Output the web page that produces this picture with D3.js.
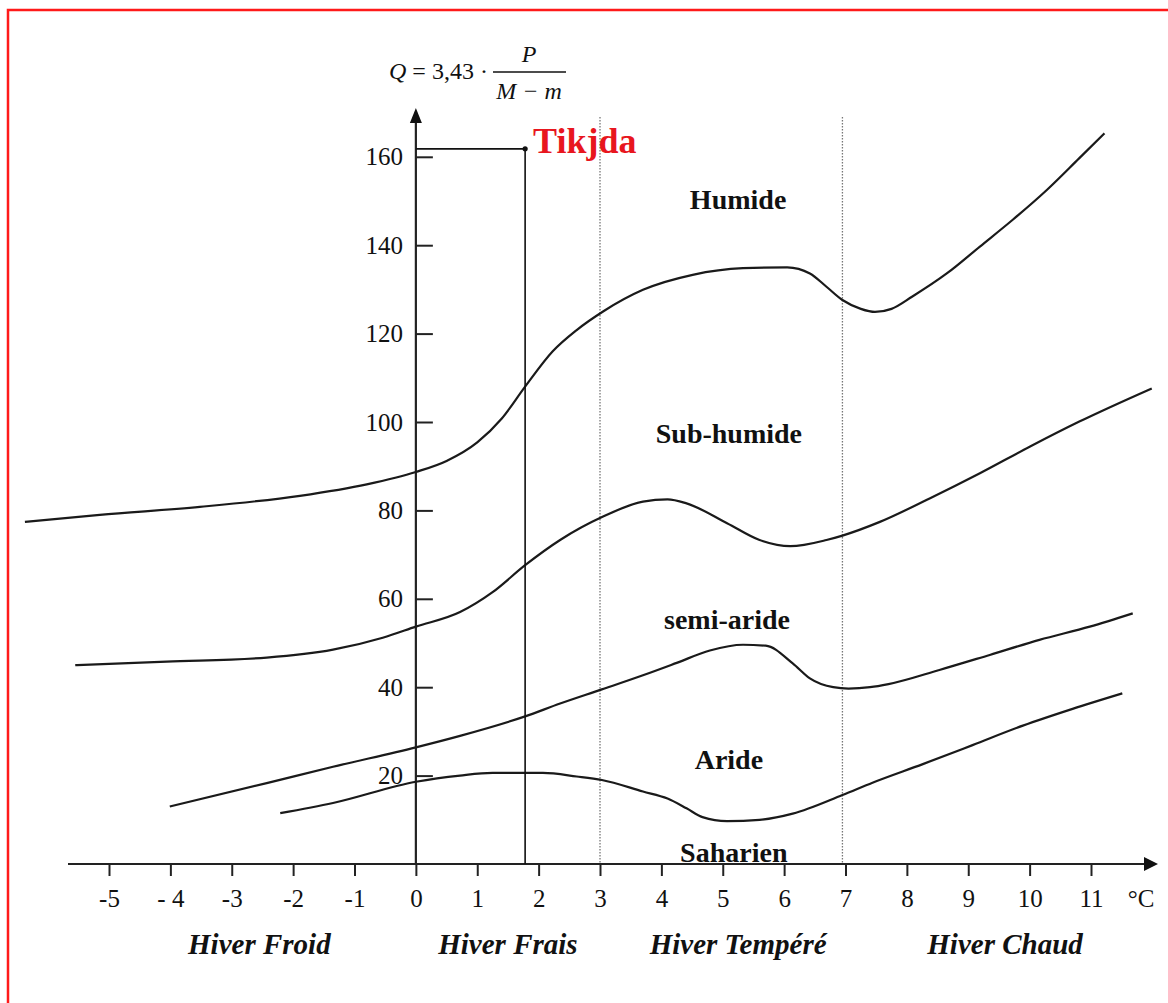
<!DOCTYPE html>
<html><head><meta charset="utf-8">
<script src="https://cdn.jsdelivr.net/npm/d3@7"></script>
<style>
html,body{margin:0;padding:0;background:#fff;}
svg{display:block;}
text{font-family:"Liberation Serif","Times New Roman",serif;fill:#111;}
</style></head>
<body>
<svg id="chart" width="1168" height="1003"></svg>
<script>
// ---- data ----
const xTicks = [-5,-4,-3,-2,-1,0,1,2,3,4,5,6,7,8,9,10,11];
const xTickLabels = ["-5","- 4","-3","-2","-1","0","1","2","3","4","5","6","7","8","9","10","11"];
const yTicks = [20,40,60,80,100,120,140,160];
const winterCats = ["Hiver Froid","Hiver Frais","Hiver Tempéré","Hiver Chaud"];
const winterCatPos = [-2.55,1.5,5.25,9.6];
const zoneNames = ["Humide","Sub-humide","semi-aride","Aride","Saharien"];
const zonePos = [[5.25,148.2],[5.1,95.2],[5.07,53.2],[5.1,21.6],[5.18,0.5]];
const dividers = [3, 6.95];
const station = {name:"Tikjda", m:1.78, Q:161.8};

// boundary curves: [m (°C), Q]
const limitHumide = [[-6.37,77.4],[-5.15,79.0],[-3.52,80.8],[-1.89,83.3],[-0.80,85.9],[0,88.7],[0.5,91.2],[1.0,95.4],[1.4,100.8],[1.78,108.0],[2.23,116.0],[2.62,120.8],[3.05,125.0],[3.70,129.9],[4.51,133.3],[5.33,134.8],[6.05,135.0],[6.42,133.6],[6.69,130.6],[6.95,127.6],[7.25,125.6],[7.48,124.9],[7.75,125.6],[8.09,128.4],[8.65,133.6],[9.19,139.7],[9.72,145.7],[10.28,152.5],[10.81,159.7],[11.22,165.3]];
const limitSubHumide = [[-5.55,45.0],[-4.06,45.8],[-2.43,46.7],[-1.35,48.5],[-0.54,51.2],[0,53.7],[0.72,57.0],[1.25,61.5],[1.78,67.6],[2.35,73.3],[3.05,78.6],[3.70,82.0],[4.10,82.5],[4.41,81.6],[5.07,77.1],[5.60,73.3],[6.10,71.9],[6.69,73.3],[6.95,74.3],[7.56,77.4],[8.37,82.7],[9.19,88.4],[10.0,94.4],[10.81,100.1],[11.99,107.6]];
const limitSemiAride = [[-4.01,13.0],[-2.43,18.3],[-1.35,22.0],[0,26.4],[0.72,29.0],[1.78,33.4],[2.35,36.3],[3.03,39.5],[3.70,42.7],[4.25,45.5],[4.79,48.3],[5.33,49.6],[5.70,49.4],[6.14,45.4],[6.42,42.0],[6.80,40.0],[7.05,39.7],[7.40,40.0],[7.70,40.7],[8.53,43.9],[9.35,47.3],[10.16,50.7],[10.98,53.7],[11.68,56.7]];
const limitAride = [[-2.21,11.5],[-1.35,13.8],[0,18.6],[0.72,20.0],[1.25,20.6],[2.07,20.6],[2.62,19.8],[3.03,19.0],[3.70,16.4],[4.10,14.8],[4.41,12.6],[4.67,10.6],[5.07,9.7],[5.60,10.0],[6.14,11.4],[6.95,15.6],[7.44,18.4],[8.26,22.6],[9.07,26.9],[9.89,31.3],[10.7,35.1],[11.51,38.6]];

// ---- drawing ----
const svg = d3.select("#chart");
const x = d3.scaleLinear().domain([-5,11]).range([109,1091]);
const y = d3.scaleLinear().domain([0,160]).range([864,156.8]);

// red frame
svg.append("rect").attr("x",8).attr("y",10).attr("width",1200).attr("height",1100)
  .attr("fill","none").attr("stroke","#ff1a1a").attr("stroke-width",2.5);

// dotted dividers
svg.selectAll(".div").data(dividers).join("line")
  .attr("x1",d=>x(d)).attr("x2",d=>x(d)).attr("y1",117).attr("y2",y(0))
  .attr("stroke","#777").attr("stroke-width",1.3).attr("stroke-dasharray","1.5,1.5");

// axes
const xAxis = d3.axisBottom(x).tickValues(xTicks).tickFormat((d,i)=>xTickLabels[i])
  .tickSizeInner(12).tickSizeOuter(0).tickPadding(13);
const gx = svg.append("g").attr("transform",`translate(0,${y(0)})`).call(xAxis);
gx.select(".domain").remove();
gx.selectAll("line").attr("stroke","#222").attr("stroke-width",2);
gx.selectAll("text").attr("font-size",25).attr("font-family","Liberation Serif").attr("fill","#111");

const yAxis = d3.axisLeft(y).tickValues(yTicks).tickSizeInner(-17).tickSizeOuter(0).tickPadding(13);
const gy = svg.append("g").attr("transform",`translate(${x(0)},0)`).call(yAxis);
gy.select(".domain").remove();
gy.selectAll("line").attr("stroke","#222").attr("stroke-width",2);
gy.selectAll("text").attr("font-size",25).attr("font-family","Liberation Serif").attr("fill","#111");

// axis lines with arrows
svg.append("line").attr("x1",68).attr("x2",1146).attr("y1",y(0)).attr("y2",y(0))
  .attr("stroke","#222").attr("stroke-width",2.2);
svg.append("path").attr("d",`M1158,${y(0)} L1144,${y(0)-7} L1144,${y(0)+7} Z`).attr("fill","#111");
svg.append("line").attr("x1",x(0)).attr("x2",x(0)).attr("y1",y(0)).attr("y2",121)
  .attr("stroke","#222").attr("stroke-width",2.2);
svg.append("path").attr("d",`M${x(0)},108 L${x(0)-6},123 L${x(0)+6},123 Z`).attr("fill","#111");

svg.append("text").attr("x",1141).attr("y",y(0)+43).attr("text-anchor","middle")
  .attr("font-size",25).text("°C");

// curves
const line = d3.line().x(d=>x(d[0])).y(d=>y(d[1])).curve(d3.curveMonotoneX);
svg.selectAll(".limit").data([limitHumide,limitSubHumide,limitSemiAride,limitAride]).join("path")
  .attr("d",line).attr("fill","none").attr("stroke","#1a1a1a").attr("stroke-width",2.2);

// station
svg.append("path")
  .attr("d",`M${x(0)},${y(station.Q)} L${x(station.m)},${y(station.Q)} L${x(station.m)},${y(0)}`)
  .attr("fill","none").attr("stroke","#111").attr("stroke-width",1.6);
svg.append("circle").attr("cx",x(station.m)).attr("cy",y(station.Q)).attr("r",2.6).attr("fill","#111");
svg.append("text").attr("x",x(station.m)+8).attr("y",y(station.Q)+4).attr("font-size",36)
  .attr("font-weight","bold").style("fill","#e8161e").text(station.name);

// zone labels
svg.selectAll(".zone").data(zoneNames).join("text")
  .attr("x",(d,i)=>x(zonePos[i][0])).attr("y",(d,i)=>y(zonePos[i][1]))
  .attr("text-anchor","middle").attr("font-size",28).attr("font-weight","bold").text(d=>d);

// winter categories
svg.selectAll(".cat").data(winterCats).join("text")
  .attr("x",(d,i)=>x(winterCatPos[i])).attr("y",954)
  .attr("text-anchor","middle").attr("font-size",29).attr("font-weight","bold")
  .attr("font-style","italic").text(d=>d);

// formula
const f = svg.append("g");
const t1 = f.append("text").attr("x",389).attr("y",79).attr("font-size",24);
t1.append("tspan").attr("font-style","italic").text("Q");
t1.append("tspan").text(" = 3,43 ·");
f.append("line").attr("x1",493).attr("x2",566).attr("y1",72).attr("y2",72).attr("stroke","#111").attr("stroke-width",1.4);
f.append("text").attr("x",529).attr("y",62).attr("text-anchor","middle").attr("font-size",24)
  .attr("font-style","italic").text("P");
f.append("text").attr("x",529).attr("y",99).attr("text-anchor","middle").attr("font-size",24)
  .attr("font-style","italic").text("M − m");
</script>
</body></html>
